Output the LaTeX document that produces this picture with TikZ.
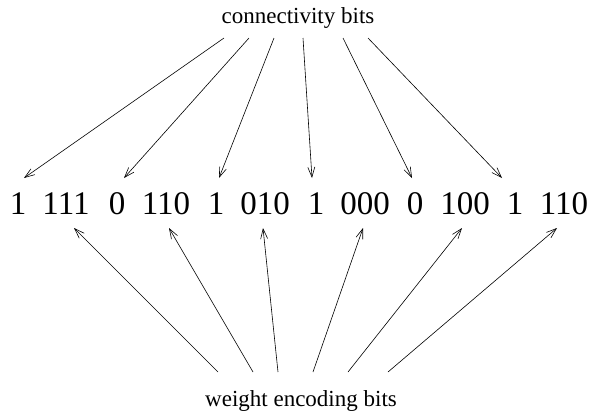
\documentclass[tikz,border=0pt]{standalone}
\usepackage{fontspec}
\setmainfont{Liberation Serif}
\usetikzlibrary{arrows.meta}
\begin{document}
\begin{tikzpicture}[x=1pt,y=-1pt,
  lbl/.style={inner sep=0pt,anchor=base,font=\fontsize{23}{26}\selectfont},
  bits/.style={inner sep=0pt,anchor=base,font=\fontsize{33}{36}\selectfont},
  arr/.style={line width=0.6pt,-{Straight Barb[length=10pt,width=7pt,line width=0.6pt]}}]
\useasboundingbox (0,0) rectangle (592,416);
\node[lbl] (conn) at (298,23) {connectivity bits};
\node[lbl] (wt) at (301,406) {weight encoding bits};
% bit groups
\node[bits] (c1) at (18,214) {1};
\node[bits] (w1) at (66,214) {111};
\node[bits] (c2) at (117,214) {0};
\node[bits] (w2) at (166,214) {110};
\node[bits] (c3) at (216,214) {1};
\node[bits] (w3) at (265,214) {010};
\node[bits] (c4) at (316,214) {1};
\node[bits] (w4) at (365,214) {000};
\node[bits] (c5) at (415,214) {0};
\node[bits] (w5) at (465,214) {100};
\node[bits] (c6) at (515,214) {1};
\node[bits] (w6) at (564,214) {110};
% top start points
\coordinate (s1) at (224,38);
\coordinate (s2) at (249,38);
\coordinate (s3) at (274,38);
\coordinate (s4) at (303,38);
\coordinate (s5) at (343,38);
\coordinate (s6) at (368,38);
% top tips
\coordinate (t1) at (24,178);
\coordinate (t2) at (124,178);
\coordinate (t3) at (219,178);
\coordinate (t4) at (312,178);
\coordinate (t5) at (412,178);
\coordinate (t6) at (502,178);
% bottom start points
\coordinate (b1) at (218,372);
\coordinate (b2) at (253,372);
\coordinate (b3) at (278,372);
\coordinate (b4) at (313,372);
\coordinate (b5) at (348,372);
\coordinate (b6) at (388,372);
% bottom tips
\coordinate (u1) at (74,228);
\coordinate (u2) at (169,228);
\coordinate (u3) at (263,228);
\coordinate (u4) at (363,228);
\coordinate (u5) at (462,228);
\coordinate (u6) at (557,228);
\foreach \i in {1,...,6}{
  \draw[arr] (s\i) -- (t\i);
  \draw[arr] (b\i) -- (u\i);
}
\end{tikzpicture}
\end{document}
